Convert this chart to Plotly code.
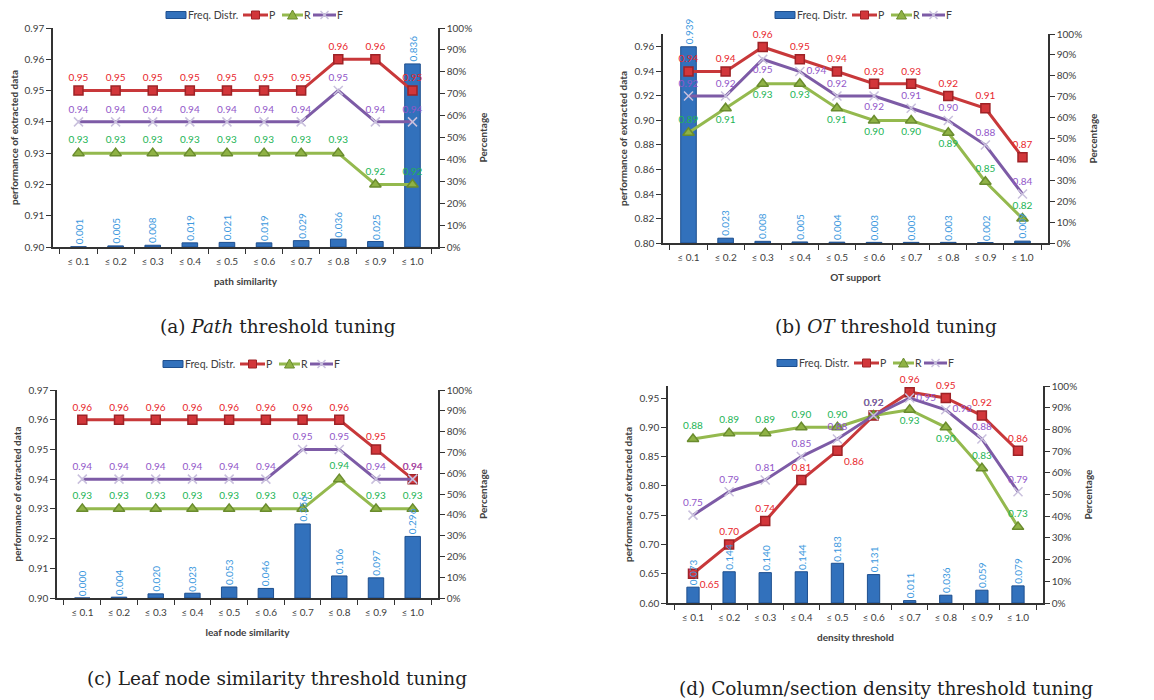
import plotly.graph_objects as go

categories = ["≤ 0.1", "≤ 0.2", "≤ 0.3", "≤ 0.4", "≤ 0.5", "≤ 0.6", "≤ 0.7", "≤ 0.8", "≤ 0.9", "≤ 1.0"]

# (a) Path threshold tuning
a_freq = [0.001, 0.005, 0.008, 0.019, 0.021, 0.019, 0.029, 0.036, 0.025, 0.836]
a_p = [0.95, 0.95, 0.95, 0.95, 0.95, 0.95, 0.95, 0.96, 0.96, 0.95]
a_r = [0.93, 0.93, 0.93, 0.93, 0.93, 0.93, 0.93, 0.93, 0.92, 0.92]
a_f = [0.94, 0.94, 0.94, 0.94, 0.94, 0.94, 0.94, 0.95, 0.94, 0.94]

# (b) OT threshold tuning
b_freq = [0.939, 0.023, 0.008, 0.005, 0.004, 0.003, 0.003, 0.003, 0.002, 0.009]
b_p = [0.94, 0.94, 0.96, 0.95, 0.94, 0.93, 0.93, 0.92, 0.91, 0.87]
b_r = [0.89, 0.91, 0.93, 0.93, 0.91, 0.90, 0.90, 0.89, 0.85, 0.82]
b_f = [0.92, 0.92, 0.95, 0.94, 0.92, 0.92, 0.91, 0.90, 0.88, 0.84]

# (c) Leaf node similarity threshold tuning
c_freq = [0.000, 0.004, 0.020, 0.023, 0.053, 0.046, 0.356, 0.106, 0.097, 0.296]
c_p = [0.96, 0.96, 0.96, 0.96, 0.96, 0.96, 0.96, 0.96, 0.95, 0.94]
c_r = [0.93, 0.93, 0.93, 0.93, 0.93, 0.93, 0.93, 0.94, 0.93, 0.93]
c_f = [0.94, 0.94, 0.94, 0.94, 0.94, 0.94, 0.95, 0.95, 0.94, 0.94]

# (d) Column/section density threshold tuning
d_freq = [0.073, 0.144, 0.140, 0.144, 0.183, 0.131, 0.011, 0.036, 0.059, 0.079]
d_p = [0.65, 0.70, 0.74, 0.81, 0.86, 0.92, 0.96, 0.95, 0.92, 0.86]
d_r = [0.88, 0.89, 0.89, 0.90, 0.90, 0.92, 0.93, 0.90, 0.83, 0.73]
d_f = [0.75, 0.79, 0.81, 0.85, 0.88, 0.92, 0.95, 0.93, 0.88, 0.79]

x_titles = ["path similarity", "OT support", "leaf node similarity", "density threshold"]
captions = ["(a) <i>Path</i> threshold tuning", "(b) <i>OT</i> threshold tuning",
            "(c) Leaf node similarity threshold tuning", "(d) Column/section density threshold tuning"]
legend_names = ["Freq. Distr.", "P", "R", "F"]

W, H = 1154, 700
OFF = 8  # page body margin
def px_x(v): return (v - OFF) / W
def px_y(v): return 1 - (v - OFF) / H

T = "top center"; B = "bottom center"; R_ = "middle right"; BR = "bottom right"
panels = [
    dict(freq=a_freq, p=a_p, r=a_r, f=a_f, xd=(53, 438), yd=(28, 247), rng=(0.90, 0.97), dt=0.01,
         pos_p=[T]*10, pos_r=[T]*10, pos_f=[T]*10, leg=(166, 15), cap=(278, 326), bw=0.42),
    dict(freq=b_freq, p=b_p, r=b_r, f=b_f, xd=(663, 1048), yd=(34, 243), rng=(0.80, 0.9706), dt=0.02,
         pos_p=[T]*10, pos_r=[T, B, B, B, B, B, B, B, T, T],
         pos_f=[T, T, B, R_, T, B, T, T, T, T], leg=(775, 15), cap=(886, 326), bw=0.42),
    dict(freq=c_freq, p=c_p, r=c_r, f=c_f, xd=(57, 438), yd=(390, 598), rng=(0.90, 0.97), dt=0.01,
         pos_p=[T]*10, pos_r=[T]*10, pos_f=[T]*10, leg=(163, 364), cap=(277, 678), bw=0.42),
    dict(freq=d_freq, p=d_p, r=d_r, f=d_f, xd=(668, 1043), yd=(386, 603), rng=(0.60, 0.9705), dt=0.05,
         pos_p=[BR, T, T, T, BR, T, T, T, T, T], pos_r=[T]*6 + [B, B, T, T],
         pos_f=[T]*6 + [R_, R_, T, T], leg=(777, 363), cap=(886, 688), bw=0.34),
]

FONT = "Lato, 'Liberation Sans', sans-serif"
TICKC = "#404040"
AXC = "#333333"
P_COL, R_COL, F_COL = "#C8383A", "#94B94E", "#7D5BA6"
P_TXT, R_TXT, F_TXT, B_TXT = "#E8262C", "#22B455", "#9257C9", "#3C98DE"
BAR_COL, BAR_LINE = "#3271BC", "#1E4F8E"
P_MK, P_ML = "#D2363A", "#9E2226"
R_MK, R_ML = "#8FB245", "#6A8C2E"
F_MK = "#C9C0DD"

fig = go.Figure()
layout = dict(width=W, height=H, margin=dict(l=0, r=0, t=0, b=0, autoexpand=False),
              paper_bgcolor="white", plot_bgcolor="white", showlegend=False,
              font=dict(family=FONT, size=10, color=TICKC), annotations=[], shapes=[])

def add_legend(x0, yc):
    shapes = layout["shapes"]; anns = layout["annotations"]
    def rect(xa, xb, ya, yb, fill, line):
        shapes.append(dict(type="rect", xref="paper", yref="paper", x0=px_x(xa), x1=px_x(xb),
                           y0=px_y(yb), y1=px_y(ya), fillcolor=fill, line=dict(color=line, width=1)))
    def seg(xa, ya, xb, yb, col, w):
        shapes.append(dict(type="line", xref="paper", yref="paper", x0=px_x(xa), y0=px_y(ya),
                           x1=px_x(xb), y1=px_y(yb), line=dict(color=col, width=w)))
    def label(x, txt):
        anns.append(dict(text=txt, x=px_x(x), y=px_y(yc), xref="paper", yref="paper",
                         xanchor="left", yanchor="middle", showarrow=False,
                         font=dict(size=10.5, color=TICKC, family=FONT)))
    rect(x0, x0 + 20, yc - 3.5, yc + 3.5, BAR_COL, BAR_LINE)
    label(x0 + 20, legend_names[0])
    seg(x0 + 77, yc, x0 + 102, yc, P_COL, 3)
    rect(x0 + 85.5, x0 + 93.5, yc - 4, yc + 4, P_MK, P_ML)
    label(x0 + 101, legend_names[1])
    seg(x0 + 116, yc, x0 + 137, yc, R_COL, 3)
    cx = x0 + 126.5
    shapes.append(dict(type="path", xref="paper", yref="paper",
                       path=f"M{px_x(cx-5)},{px_y(yc+4)} L{px_x(cx+5)},{px_y(yc+4)} L{px_x(cx)},{px_y(yc-5)} Z",
                       fillcolor=R_MK, line=dict(color=R_ML, width=1)))
    label(x0 + 136, legend_names[2])
    seg(x0 + 147, yc, x0 + 170, yc, F_COL, 3)
    cx = x0 + 158.5
    seg(cx - 4, yc - 4, cx + 4, yc + 4, F_MK, 1.5)
    seg(cx - 4, yc + 4, cx + 4, yc - 4, F_MK, 1.5)
    label(x0 + 169, legend_names[3])

for i, pn in enumerate(panels):
    k = i + 1
    xid = "x" if k == 1 else f"x{k}"
    ybase = 2 * k - 1
    yover = 2 * k
    yb_id = "y" if ybase == 1 else f"y{ybase}"
    yo_id = f"y{yover}"

    fig.add_trace(go.Bar(
        x=categories, y=pn["freq"], xaxis=xid, yaxis=yb_id, name=legend_names[0],
        marker=dict(color=BAR_COL, line=dict(color=BAR_LINE, width=1)),
        width=pn["bw"], cliponaxis=False))
    for name, vals, lc, tc, sym, msize, mcol, mline, pos in [
        (legend_names[1], pn["p"], P_COL, P_TXT, "square", 9, P_MK, P_ML, pn["pos_p"]),
        (legend_names[2], pn["r"], R_COL, R_TXT, "triangle-up", 10, R_MK, R_ML, pn["pos_r"]),
        (legend_names[3], pn["f"], F_COL, F_TXT, "x-thin-open", 9, F_MK, F_MK, pn["pos_f"]),
    ]:
        fig.add_trace(go.Scatter(
            x=categories, y=vals, xaxis=xid, yaxis=yo_id, name=name, mode="lines+markers+text",
            line=dict(color=lc, width=3),
            marker=dict(symbol=sym, size=msize, color=mcol, line=dict(color=mline, width=1.5)),
            texttemplate="%{y:.2f}", textposition=pos,
            textfont=dict(color=tc, size=10, family=FONT), cliponaxis=False))

    # bar value labels (rotated), drawn above the lines like the original
    for cat, v in zip(categories, pn["freq"]):
        layout["annotations"].append(dict(
            text=f"{v:.3f}", x=cat, y=v, xref=xid, yref=yb_id, xanchor="center", yanchor="bottom",
            textangle=-90, showarrow=False, yshift=1, borderpad=0,
            font=dict(color=B_TXT, size=10, family=FONT)))

    xdom = [px_x(pn["xd"][0]), px_x(pn["xd"][1])]
    ydom = [px_y(pn["yd"][1]), px_y(pn["yd"][0])]
    xkey = "xaxis" if k == 1 else f"xaxis{k}"
    layout[xkey] = dict(domain=xdom, anchor=yb_id, type="category", tickson="boundaries",
                        ticks="outside", ticklen=5, tickcolor=AXC, showline=True, linecolor=AXC,
                        linewidth=1.5, showgrid=False, tickfont=dict(size=10, color=TICKC),
                        ticklabelstandoff=4,
                        title=dict(text=x_titles[i], font=dict(size=10, color=TICKC, weight="bold"), standoff=12),
                        fixedrange=True)
    layout[f"yaxis{ybase}" if ybase > 1 else "yaxis"] = dict(
        domain=ydom, anchor=xid, side="right", range=[0, 1], dtick=0.1, tickformat=".0%",
        ticks="outside", ticklen=5, tickcolor=AXC, showline=True, linecolor=AXC, linewidth=1.5,
        showgrid=False, zeroline=False, tickfont=dict(size=10, color=TICKC),
        title=dict(text="Percentage", font=dict(size=10, color=TICKC, weight="bold"), standoff=9))
    layout[f"yaxis{yover}"] = dict(
        overlaying=yb_id, anchor=xid, side="left", range=list(pn["rng"]), dtick=pn["dt"],
        tick0=pn["rng"][0], tickformat=".2f", ticks="outside", ticklen=5, tickcolor=AXC,
        showline=True, linecolor=AXC, linewidth=1.5, showgrid=False, zeroline=False,
        tickfont=dict(size=10, color=TICKC),
        title=dict(text="performance of extracted data", font=dict(size=10, color=TICKC, weight="bold"), standoff=5))
    add_legend(*pn["leg"])
    layout["annotations"].append(dict(
        text=captions[i], x=px_x(pn["cap"][0]), y=px_y(pn["cap"][1]), xref="paper", yref="paper",
        xanchor="center", yanchor="middle", showarrow=False,
        font=dict(family="'DejaVu Serif', serif", size=18.5, color="#222222")))

fig.update_layout(**layout)
fig.write_html("out.html")
